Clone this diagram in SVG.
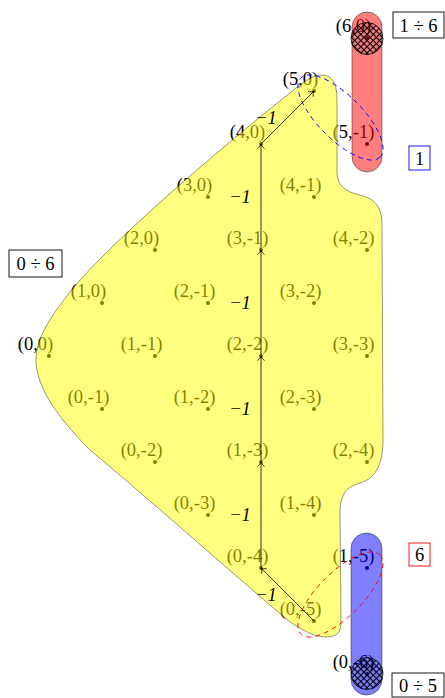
<svg xmlns="http://www.w3.org/2000/svg" width="445" height="698" viewBox="0 0 445 698">
<style>
.dot{fill:#000}
.lbl{font-family:"Liberation Serif",serif;font-size:18.5px;text-anchor:middle;fill:#000}
.el{font-family:"Liberation Serif",serif;font-size:18.5px;font-style:italic;text-anchor:middle;fill:#000}
.edge{fill:none;stroke:#000;stroke-width:0.8;marker-end:url(#arr)}
.blob{stroke:#000;stroke-opacity:0.5;stroke-width:0.8}
.loop{fill:none;stroke-width:0.9;stroke-dasharray:5 4}
.box{fill:#fff;stroke-width:0.9}
.bt{font-family:"Liberation Serif",serif;font-size:18.5px;text-anchor:middle;fill:#000}
</style>
<defs>
<marker id="arr" viewBox="-6 -5 8 10" markerWidth="8" markerHeight="10" refX="0" refY="0" orient="auto" markerUnits="userSpaceOnUse">
<path d="M-4.5,-3.5 C-3,-1.5 -1.5,-0.5 0,0 C-1.5,0.5 -3,1.5 -4.5,3.5" fill="none" stroke="#000" stroke-width="0.8"/>
</marker>
<pattern id="xh" patternUnits="userSpaceOnUse" width="4.4" height="4.4" patternTransform="rotate(45)">
<path d="M0,2.2H4.4M2.2,0V4.4" stroke="#000" stroke-width="1.1"/>
</pattern>
</defs>
<g id="points">
<g id="p-0-0"><circle class="dot" cx="49" cy="356" r="2"/><text class="lbl" x="35.5" y="349.5">(0,0)</text></g>
<g id="p-1-0"><circle class="dot" cx="102" cy="303" r="2"/><text class="lbl" x="88.5" y="296.5">(1,0)</text></g>
<g id="p-2-0"><circle class="dot" cx="155" cy="250" r="2"/><text class="lbl" x="141.5" y="243.5">(2,0)</text></g>
<g id="p-3-0"><circle class="dot" cx="208" cy="197" r="2"/><text class="lbl" x="194.5" y="190.5">(3,0)</text></g>
<g id="p-4-0"><circle class="dot" cx="261" cy="144" r="2"/><text class="lbl" x="247.5" y="137.5">(4,0)</text></g>
<g id="p-5-0"><circle class="dot" cx="314" cy="91" r="2"/><text class="lbl" x="300.5" y="84.5">(5,0)</text></g>
<g id="p-6-0"><circle class="dot" cx="367" cy="38" r="2"/><text class="lbl" x="353.5" y="31.5">(6,0)</text></g>
<g id="p-1-m1"><circle class="dot" cx="155" cy="356" r="2"/><text class="lbl" x="141.5" y="349.5">(1,-1)</text></g>
<g id="p-2-m1"><circle class="dot" cx="208" cy="303" r="2"/><text class="lbl" x="194.5" y="296.5">(2,-1)</text></g>
<g id="p-3-m1"><circle class="dot" cx="261" cy="250" r="2"/><text class="lbl" x="247.5" y="243.5">(3,-1)</text></g>
<g id="p-4-m1"><circle class="dot" cx="314" cy="197" r="2"/><text class="lbl" x="300.5" y="190.5">(4,-1)</text></g>
<g id="p-5-m1"><circle class="dot" cx="367" cy="144" r="2"/><text class="lbl" x="353.5" y="137.5">(5,-1)</text></g>
<g id="p-2-m2"><circle class="dot" cx="261" cy="356" r="2"/><text class="lbl" x="247.5" y="349.5">(2,-2)</text></g>
<g id="p-3-m2"><circle class="dot" cx="314" cy="303" r="2"/><text class="lbl" x="300.5" y="296.5">(3,-2)</text></g>
<g id="p-4-m2"><circle class="dot" cx="367" cy="250" r="2"/><text class="lbl" x="353.5" y="243.5">(4,-2)</text></g>
<g id="p-3-m3"><circle class="dot" cx="367" cy="356" r="2"/><text class="lbl" x="353.5" y="349.5">(3,-3)</text></g>
<g id="p-0-m1"><circle class="dot" cx="102" cy="409" r="2"/><text class="lbl" x="88.5" y="402.5">(0,-1)</text></g>
<g id="p-1-m2"><circle class="dot" cx="208" cy="409" r="2"/><text class="lbl" x="194.5" y="402.5">(1,-2)</text></g>
<g id="p-2-m3"><circle class="dot" cx="314" cy="409" r="2"/><text class="lbl" x="300.5" y="402.5">(2,-3)</text></g>
<g id="p-0-m2"><circle class="dot" cx="155" cy="462" r="2"/><text class="lbl" x="141.5" y="455.5">(0,-2)</text></g>
<g id="p-1-m3"><circle class="dot" cx="261" cy="462" r="2"/><text class="lbl" x="247.5" y="455.5">(1,-3)</text></g>
<g id="p-2-m4"><circle class="dot" cx="367" cy="462" r="2"/><text class="lbl" x="353.5" y="455.5">(2,-4)</text></g>
<g id="p-0-m3"><circle class="dot" cx="208" cy="515" r="2"/><text class="lbl" x="194.5" y="508.5">(0,-3)</text></g>
<g id="p-1-m4"><circle class="dot" cx="314" cy="515" r="2"/><text class="lbl" x="300.5" y="508.5">(1,-4)</text></g>
<g id="p-0-m4"><circle class="dot" cx="261" cy="568" r="2"/><text class="lbl" x="247.5" y="561.5">(0,-4)</text></g>
<g id="p-1-m5"><circle class="dot" cx="367" cy="568" r="2"/><text class="lbl" x="353.5" y="561.5">(1,-5)</text></g>
<g id="p-0-m5"><circle class="dot" cx="314" cy="621" r="2"/><text class="lbl" x="300.5" y="614.5">(0,-5)</text></g>
<g id="p-0-m6"><circle class="dot" cx="367" cy="674" r="2"/><text class="lbl" x="353.5" y="667.5">(0,-6)</text></g>
</g>
<g id="regions">
<g id="region-yellow"><path class="blob" fill="#ffff00" fill-opacity="0.5" d="M322,75 C333,75 337,85 337,100 L337,172 C337,186 346,192 360,195 C376,199 382,208 382,225 L383,440 C383,462 377,478 360,483 C346,487 340,495 340,512 L341,622 C341,633 336,637 326,637 C316,637 305,632 290,622 C240,580 150,500 90,450 C55,415 36,385 36,360 C36,335 55,310 80,280 C130,225 230,140 300,85 C308,79 314,75 322,75 Z"/></g>
<g id="region-red"><rect class="blob" x="352" y="12" width="30" height="160" rx="15" fill="#ff0000" fill-opacity="0.5"/></g>
<g id="region-blue"><rect class="blob" x="351" y="533" width="31" height="162" rx="15.5" fill="#0000ff" fill-opacity="0.5"/></g>
</g>
<g id="hatched">
<circle cx="367" cy="38.5" r="16" fill="url(#xh)" stroke="#000" stroke-width="0.8"/>
<circle cx="367" cy="673.5" r="16" fill="url(#xh)" stroke="#000" stroke-width="0.8"/>
</g>
<g id="loops">
<ellipse class="loop" stroke="#0000ff" cx="340.5" cy="117.5" rx="56" ry="22" transform="rotate(45 340.5 117.5)"/>
<ellipse class="loop" stroke="#ff0000" cx="340.5" cy="594.5" rx="56" ry="22" transform="rotate(-45 340.5 594.5)"/>
</g>
<g id="connectors">
<line class="edge" x1="261" y1="568" x2="261" y2="462"/>
<line class="edge" x1="261" y1="462" x2="261" y2="356"/>
<line class="edge" x1="261" y1="356" x2="261" y2="250"/>
<line class="edge" x1="261" y1="250" x2="261" y2="144"/>
<line class="edge" x1="261" y1="144" x2="314" y2="91"/>
<line class="edge" x1="314" y1="621" x2="261" y2="568"/>
<text class="el" x="240" y="203">−1</text>
<text class="el" x="240" y="309">−1</text>
<text class="el" x="240" y="415">−1</text>
<text class="el" x="240" y="521">−1</text>
<text class="el" x="266" y="124">−1</text>
<text class="el" x="266" y="601">−1</text>
</g>
<g id="boxes">
<g id="box-1-6"><rect class="box" x="393" y="12" width="51" height="26" stroke="#000"/><text class="bt" x="418.5" y="31.5">1 ÷ 6</text></g>
<g id="box-1"><rect class="box" x="409" y="146" width="21" height="24" stroke="#0000ff"/><text class="bt" x="419.5" y="164.5">1</text></g>
<g id="box-0-6"><rect class="box" x="9" y="250" width="53" height="27" stroke="#000"/><text class="bt" x="35.5" y="270">0 ÷ 6</text></g>
<g id="box-6"><rect class="box" x="409" y="543" width="21" height="23" stroke="#ff0000"/><text class="bt" x="419.5" y="561">6</text></g>
<g id="box-0-5"><rect class="box" x="392" y="673" width="52" height="24" stroke="#000"/><text class="bt" x="418" y="692">0 ÷ 5</text></g>
</g>
</svg>
